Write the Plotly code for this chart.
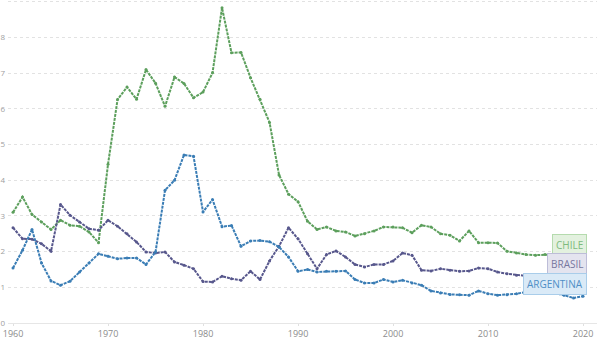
import plotly.graph_objects as go

years = list(range(1960, 2021))

chile = [3.10, 3.53, 3.04, 2.83, 2.62, 2.88, 2.74, 2.71, 2.55, 2.25,
         4.45, 6.26, 6.61, 6.27, 7.10, 6.72, 6.07, 6.89, 6.71, 6.31,
         6.47, 7.01, 8.83, 7.57, 7.58, 6.87, 6.27, 5.62, 4.15, 3.61,
         3.40, 2.85, 2.62, 2.69, 2.58, 2.55, 2.44, 2.50, 2.58, 2.69,
         2.69, 2.67, 2.53, 2.74, 2.69, 2.50, 2.46, 2.30, 2.58, 2.25,
         2.25, 2.24, 2.01, 1.96, 1.92, 1.90, 1.92, 1.92, 1.90, 1.88,
         1.90]

brasil = [2.67, 2.36, 2.35, 2.22, 2.01, 3.32, 3.02, 2.83, 2.64, 2.60,
          2.88, 2.71, 2.50, 2.27, 1.99, 1.96, 1.99, 1.71, 1.62, 1.52,
          1.16, 1.15, 1.31, 1.24, 1.20, 1.45, 1.22, 1.74, 2.15, 2.67,
          2.36, 1.94, 1.52, 1.92, 2.02, 1.85, 1.64, 1.57, 1.64, 1.64,
          1.74, 1.96, 1.90, 1.48, 1.46, 1.52, 1.48, 1.45, 1.46, 1.54,
          1.52, 1.43, 1.38, 1.34, 1.32, 1.34, 1.36, 1.36, 1.40, 1.42,
          1.48]

argentina = [1.54, 2.04, 2.62, 1.68, 1.18, 1.06, 1.17, 1.43, 1.68, 1.94,
             1.87, 1.80, 1.82, 1.82, 1.64, 1.99, 3.72, 4.00, 4.71, 4.67,
             3.11, 3.46, 2.70, 2.73, 2.15, 2.30, 2.31, 2.28, 2.13, 1.85,
             1.45, 1.50, 1.43, 1.45, 1.45, 1.46, 1.22, 1.12, 1.12, 1.22,
             1.15, 1.20, 1.12, 1.06, 0.90, 0.84, 0.80, 0.79, 0.78, 0.90,
             0.82, 0.78, 0.79, 0.82, 0.87, 0.89, 0.87, 0.84, 0.78, 0.70,
             0.75]

series = [
    ("CHILE", chile, "#5c9f5c", "#7dbb7d", "#e3f1df", "#b5dbae", 2.18),
    ("BRASIL", brasil, "#57578c", "#77779f", "#e4e4ef", "#bdbdd8", 1.66),
    ("ARGENTINA", argentina, "#3a7db5", "#4f8fc6", "#daeaf7", "#a9cdea", 1.10),
]

x_ticks = [1960, 1970, 1980, 1990, 2000, 2010, 2020]

fig = go.Figure()

for name, vals, color, txt, fill, border, label_y in series:
    fig.add_trace(go.Scatter(
        x=years, y=vals, mode="lines+markers", name=name,
        line=dict(color=color, width=2, dash="3px,1px"),
        marker=dict(color=color, size=3),
        hoverinfo="skip", showlegend=False,
    ))
    fig.add_annotation(
        x=2020.4, y=label_y, xref="x", yref="y",
        xanchor="right", yanchor="middle",
        text=name, showarrow=False,
        font=dict(family="Open Sans", size=10, color=txt),
        bgcolor=fill, bordercolor=border, borderwidth=1, borderpad=3,
    )

fig.update_layout(
    width=602, height=348,
    margin=dict(l=8, r=5, t=0, b=25),
    paper_bgcolor="white", plot_bgcolor="white",
    font=dict(family="Open Sans", size=9, color="#999999"),
)

fig.update_xaxes(
    range=[1959.47, 2021.47],
    tickmode="array", tickvals=x_ticks, ticktext=[str(t) for t in x_ticks],
    showgrid=False, zeroline=False,
    showline=True, linecolor="#e6e6e6", linewidth=1,
    ticks="outside", ticklen=2, tickcolor="#e0e0e0",
    tickfont=dict(size=9, color="#8c8c8c"),
)

fig.update_yaxes(
    range=[0, 9.05], dtick=1,
    showgrid=True, gridcolor="#e2e2e2", griddash="dot", gridwidth=1,
    zeroline=False, automargin=False,
    tickfont=dict(size=8, color="#a0a0a0"),
    ticklabelstandoff=2,
)

fig.write_html("out.html")
